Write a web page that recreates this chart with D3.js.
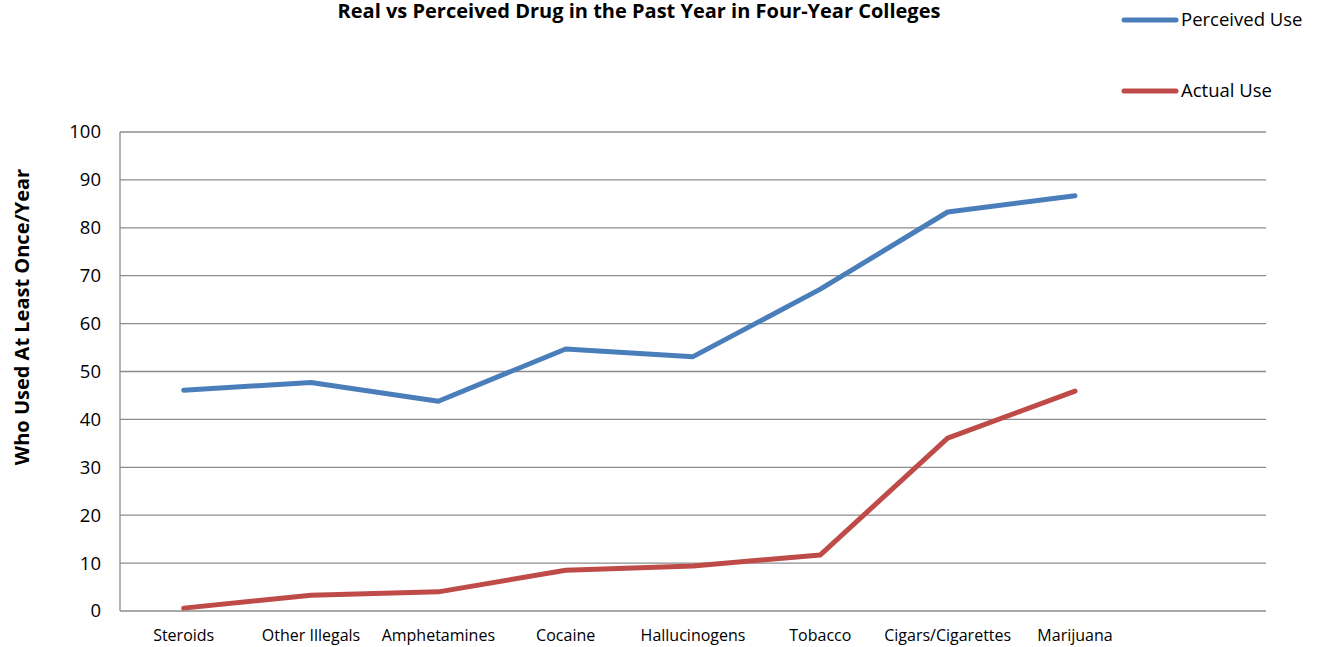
<!DOCTYPE html>
<html><head><meta charset="utf-8">
<script src="https://cdn.jsdelivr.net/npm/d3@7"></script>
<style>body{margin:0;background:#fff;} svg{display:block;}</style>
</head><body>
<svg id="chart" width="1317" height="647"></svg>
<script>
const categories = ["Steroids","Other Illegals","Amphetamines","Cocaine","Hallucinogens","Tobacco","Cigars/Cigarettes","Marijuana",""];
const perceivedUse = [46.1, 47.7, 43.8, 54.7, 53.1, 67.2, 83.3, 86.7];
const actualUse = [0.6, 3.3, 4.0, 8.5, 9.4, 11.7, 36.1, 45.9];
const yTicks = [0,10,20,30,40,50,60,70,80,90,100];
const seriesNames = ["Perceived Use","Actual Use"];
const colors = ["#4a7ebb","#be4b48"];

const svg = d3.select("#chart");
const font = "'Open Sans', sans-serif";
const m = {left:120, right:1266, top:132, bottom:611};
const x = d3.scaleBand().domain(categories).range([m.left, m.right]);
const y = d3.scaleLinear().domain([0,100]).range([m.bottom, m.top]);

// gridlines
svg.append("g").selectAll("line").data(yTicks).join("line")
  .attr("x1", m.left).attr("x2", m.right)
  .attr("y1", d=>y(d)).attr("y2", d=>y(d))
  .attr("stroke", "#8c8c8c").attr("stroke-width", 1.3);
svg.append("line").attr("x1", m.left).attr("x2", m.left).attr("y1", m.top).attr("y2", m.bottom)
  .attr("stroke","#8c8c8c").attr("stroke-width",1.3);

const yAxis = svg.append("g").attr("transform",`translate(${m.left},0)`)
  .call(d3.axisLeft(y).tickValues(yTicks).tickSize(0).tickPadding(19));
yAxis.select(".domain").remove();
yAxis.selectAll(".tick line").remove();
yAxis.selectAll("text").attr("font-family",font).attr("font-size",18.5).attr("fill","#000");

const xAxis = svg.append("g").attr("transform",`translate(0,${m.bottom})`)
  .call(d3.axisBottom(x).tickSize(0).tickPadding(19));
xAxis.select(".domain").remove();
xAxis.selectAll("text").attr("font-family",font).attr("font-size",16).attr("fill","#000");

const line = d3.line().x((d,i)=>x(categories[i]) + x.bandwidth()/2).y(d=>y(d));
[perceivedUse, actualUse].forEach((s,i)=>{
  svg.append("path").attr("d", line(s)).attr("fill","none")
    .attr("stroke", colors[i]).attr("stroke-width",5)
    .attr("stroke-linecap","round").attr("stroke-linejoin","round");
});

// title
svg.append("text").attr("x",639).attr("y",18).attr("text-anchor","middle")
  .attr("font-family",font).attr("font-weight","bold").attr("font-size",20)
  .text("Real vs Perceived Drug in the Past Year in Four-Year Colleges");

// y label
svg.append("text").attr("transform","translate(29,317) rotate(-90)").attr("text-anchor","middle")
  .attr("font-family",font).attr("font-weight","bold").attr("font-size",20)
  .text("Who Used At Least Once/Year");

// legend
const legY = [20, 91];
seriesNames.forEach((n,i)=>{
  svg.append("line").attr("x1",1124).attr("x2",1176).attr("y1",legY[i]).attr("y2",legY[i])
    .attr("stroke",colors[i]).attr("stroke-width",5).attr("stroke-linecap","round");
  svg.append("text").attr("x",1181).attr("y",legY[i]+6).attr("font-family",font)
    .attr("font-size",18.5).text(n);
});
</script>
</body></html>
